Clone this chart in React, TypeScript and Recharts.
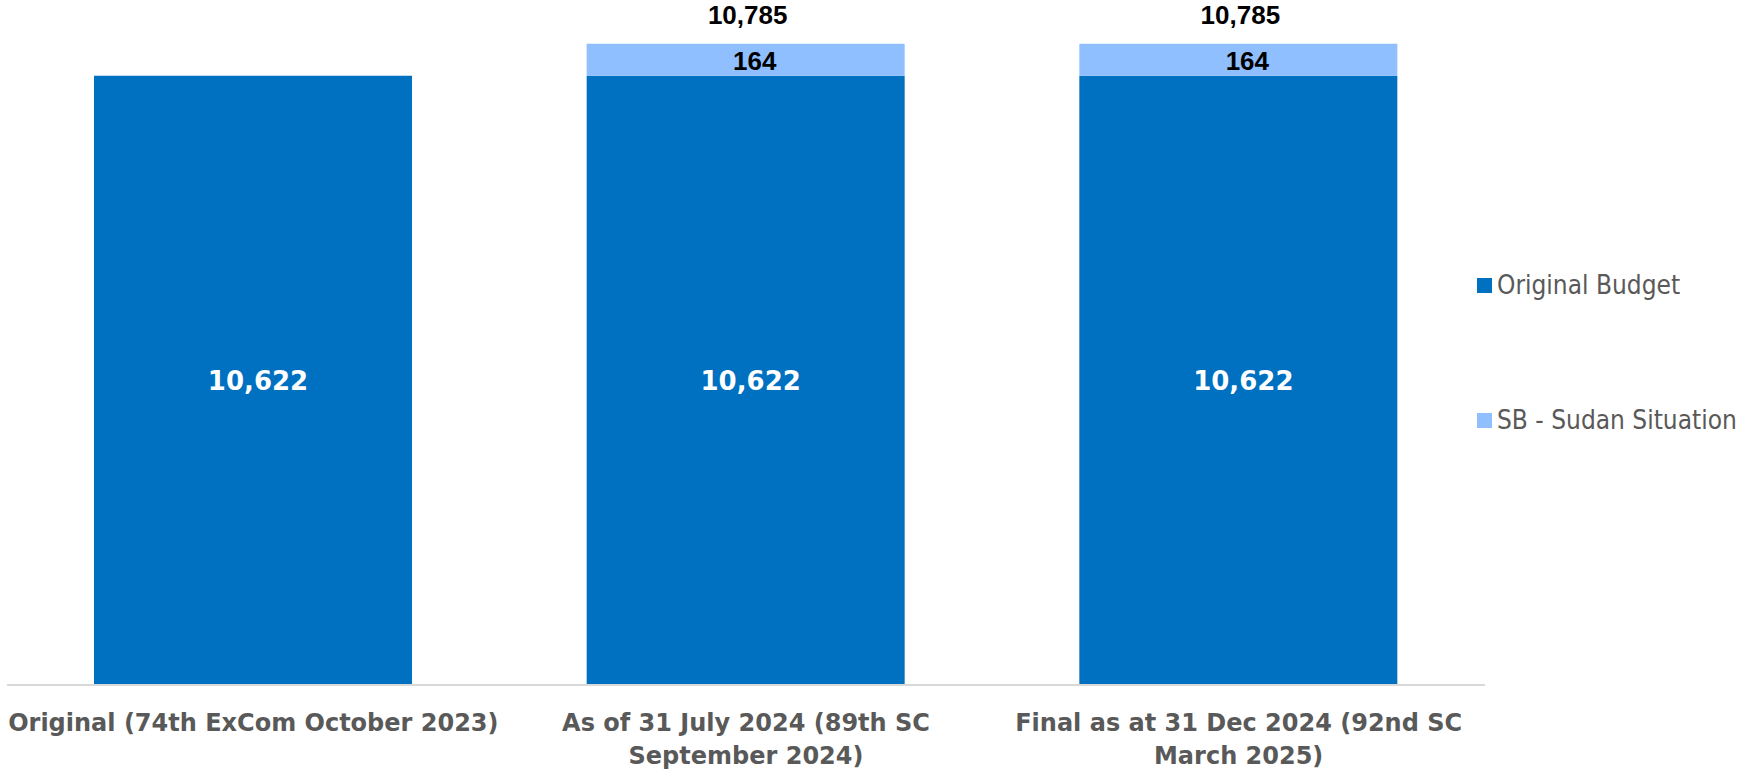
import React from "react";
import { BarChart, Bar, XAxis, YAxis, Legend, LabelList } from "recharts";

// categories and values
const categories = [
  "Original (74th ExCom October 2023)",
  "As of 31 July 2024 (89th SC\nSeptember 2024)",
  "Final as at 31 Dec 2024 (92nd SC\nMarch 2025)",
];
const originalBudget = [10622, 10622, 10622];
const sudanSituation = [null, 164, 164];
const totals = [null, 10785, 10785];

const seriesNames = ["Original Budget", "SB - Sudan Situation"];
const yDomain = [7500, 11000];

const BLUE = "#0070C0";
const LIGHT_BLUE = "#8FBFFF";
const GREY = "#595959";

const W = 1742;
const H = 770;
const MARGIN = { top: 2, right: 257, bottom: 5, left: 7 };
const XAXIS_H = 80;
const PLOT_BOTTOM = H - MARGIN.bottom - XAXIS_H;

const data = categories.map((name, i) => ({
  name,
  original: originalBudget[i],
  sudan: sudanSituation[i],
  total: totals[i],
}));

const fmt = (v: number) => v.toLocaleString("en-US");

const CategoryTick = (props: any) => {
  const { x, y, payload } = props;
  const lines = String(payload.value).split("\n");
  return (
    <text
      x={x}
      y={y}
      textAnchor="middle"
      fill={GREY}
      fontFamily="DejaVu Sans"
      fontWeight="bold"
      fontSize={24}
    >
      {lines.map((l, i) => (
        <tspan key={i} x={x} dy={i === 0 ? 46 : 33}>
          {l}
        </tspan>
      ))}
    </text>
  );
};

// stack starts at 0 and is clipped, so centre the label on the visible part
const OriginalLabel = (props: any) => {
  const { x, y, width, value } = props;
  if (value == null) return null;
  const cy = (y + PLOT_BOTTOM) / 2;
  return (
    <text
      x={x + width / 2 + 5}
      y={cy + 10}
      textAnchor="middle"
      fill="#fff"
      fontFamily="DejaVu Sans"
      fontWeight="bold"
      fontSize={26}
    >
      {fmt(value)}
    </text>
  );
};

const SudanLabel = (props: any) => {
  const { x, y, width, height, value } = props;
  if (value == null || !value) return null;
  return (
    <text
      x={x + width / 2 + 9}
      y={y + height / 2 + 10}
      textAnchor="middle"
      fill="#000"
      fontFamily="Liberation Sans"
      fontWeight="bold"
      fontSize={26}
    >
      {fmt(value)}
    </text>
  );
};

const TotalLabel = (props: any) => {
  const { x, y, width, value } = props;
  if (value == null) return null;
  return (
    <text
      x={x + width / 2 + 2}
      y={y - 20}
      textAnchor="middle"
      fill="#000"
      fontFamily="Liberation Sans"
      fontWeight="bold"
      fontSize={26}
    >
      {fmt(value)}
    </text>
  );
};

const LegendBox = (props: any) => {
  const items = props.payload || [];
  return (
    <div>
      {items.map((it: any, i: number) => (
        <div
          key={i}
          style={{
            display: "flex",
            alignItems: "center",
            height: 30,
            marginBottom: 105,
            fontFamily: "'DejaVu Sans Condensed', 'DejaVu Sans'",
            fontSize: 26,
            color: GREY,
            whiteSpace: "nowrap",
          }}
        >
          <span
            style={{
              display: "inline-block",
              width: 15,
              height: 15,
              background: it.color,
              marginRight: 5,
            }}
          />
          {it.value}
        </div>
      ))}
    </div>
  );
};

export default function App() {
  return (
    <div style={{ position: "absolute", left: 0, top: 0, background: "#fff" }}>
      <BarChart width={W} height={H} data={data} margin={MARGIN}>
        <XAxis
          dataKey="name"
          height={XAXIS_H}
          tick={<CategoryTick />}
          tickLine={false}
          tickSize={0}
          tickMargin={0}
          axisLine={{ stroke: "#D9D9D9", strokeWidth: 2 }}
          interval={0}
        />
        <YAxis hide domain={yDomain} allowDataOverflow />
        <Legend
          layout="horizontal"
          verticalAlign="middle"
          align="center"
          wrapperStyle={{ left: 1477, top: 270, width: "auto" }}
          content={<LegendBox />}
        />
        <Bar
          dataKey="original"
          name={seriesNames[0]}
          stackId="a"
          fill={BLUE}
          barSize={318}
          isAnimationActive={false}
        >
          <LabelList dataKey="original" content={<OriginalLabel />} />
        </Bar>
        <Bar
          dataKey="sudan"
          name={seriesNames[1]}
          stackId="a"
          fill={LIGHT_BLUE}
          barSize={318}
          isAnimationActive={false}
        >
          <LabelList dataKey="sudan" content={<SudanLabel />} />
          <LabelList dataKey="total" content={<TotalLabel />} />
        </Bar>
      </BarChart>
    </div>
  );
}
